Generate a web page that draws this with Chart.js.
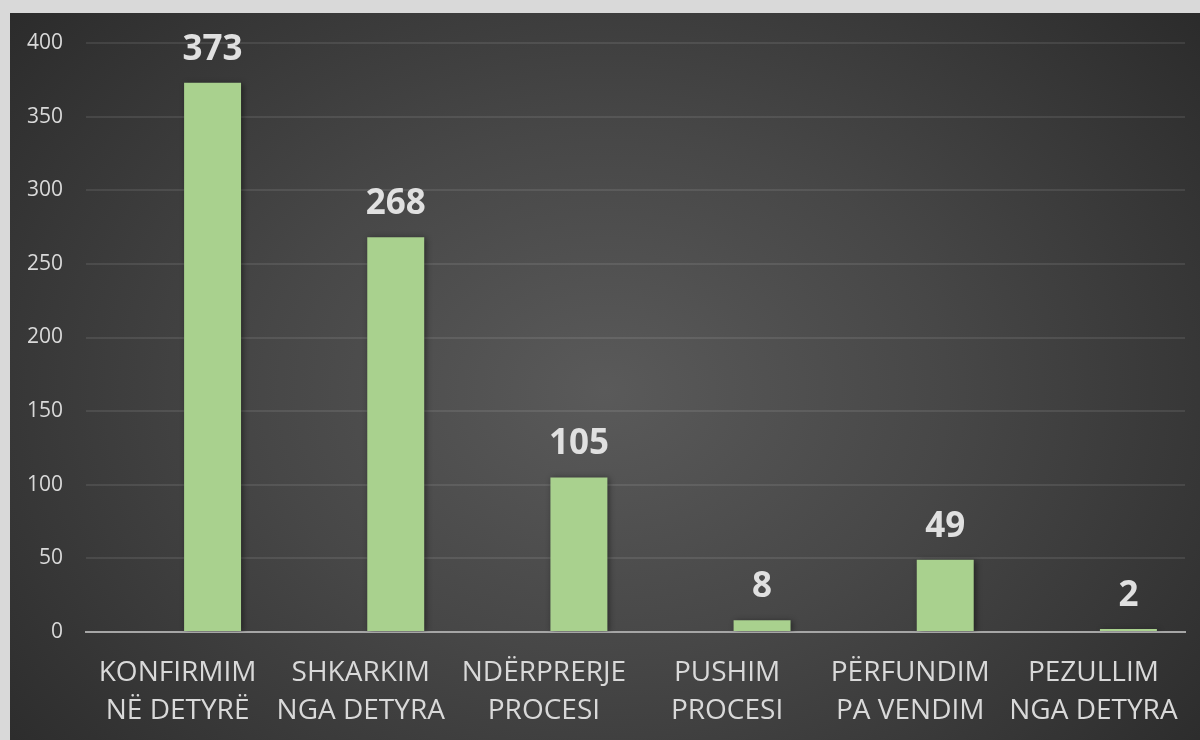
<!DOCTYPE html>
<html>
<head>
<meta charset="utf-8">
<script src="https://cdn.jsdelivr.net/npm/chart.js@4/dist/chart.umd.min.js"></script>
<style>
    html, body { margin: 0; padding: 0; }
    body { width: 1200px; height: 740px; background: #d9d9d9; position: relative; overflow: hidden; }
    #panel {
        position: absolute; left: 10px; top: 13px; width: 1190px; height: 727px;
        background: radial-gradient(ellipse 72% 90% at 50% 52%, #5a5a5a 0%, #474747 40%, #262626 100%);
    }
</style>
</head>
<body>
<div id="panel"><canvas id="chart" width="1190" height="727"></canvas></div>
<script>
// Data
const categories = [
    ['KONFIRMIM', 'NË DETYRË'],
    ['SHKARKIM', 'NGA DETYRA'],
    ['NDËRPRERJE', 'PROCESI'],
    ['PUSHIM', 'PROCESI'],
    ['PËRFUNDIM', 'PA VENDIM'],
    ['PEZULLIM', 'NGA DETYRA'],
];
const emptySeries = [null, null, null, null, null, null];
const values = [373, 268, 105, 8, 49, 2];
const yTicks = [0, 50, 100, 150, 200, 250, 300, 350, 400];

const textColor = '#d9d9d9';

// Draw value labels over the visible bars
const valueLabels = {
    id: 'valueLabels',
    afterDatasetsDraw(chart) {
        const ctx = chart.ctx;
        const meta = chart.getDatasetMeta(1);
        ctx.save();
        ctx.font = 'bold 35px "Open Sans"';
        ctx.fillStyle = '#e0e0e0';
        ctx.textAlign = 'center';
        ctx.textBaseline = 'alphabetic';
        meta.data.forEach((bar, i) => {
            ctx.fillText(String(values[i]), bar.x, bar.y - 23);
        });
        ctx.restore();
    }
};

// Soft shadow under the bars
const barShadow = {
    id: 'barShadow',
    beforeDatasetsDraw(chart) {
        const ctx = chart.ctx;
        ctx.save();
        ctx.shadowColor = 'rgba(0, 0, 0, 0.45)';
        ctx.shadowBlur = 6;
        ctx.shadowOffsetX = 2;
        ctx.shadowOffsetY = 1;
    },
    afterDatasetsDraw(chart) {
        chart.ctx.restore();
    }
};

const ctx = document.getElementById('chart').getContext('2d');
new Chart(ctx, {
    type: 'bar',
    data: {
        labels: categories,
        datasets: [
            { label: 'empty', data: emptySeries, backgroundColor: '#a9d18e' },
            { label: 'values', data: values, backgroundColor: '#a9d18e', borderWidth: 0 }
        ]
    },
    options: {
        responsive: false,
        animation: false,
        devicePixelRatio: 1,
        categoryPercentage: 0.764,
        barPercentage: 0.814,
        layout: { padding: { top: 30, right: 15, left: 0, bottom: 0 } },
        plugins: {
            legend: { display: false },
            tooltip: { enabled: false }
        },
        scales: {
            x: {
                // tick marks used only as spacing (padding would also pad the sides)
                grid: { color: 'rgba(0,0,0,0)', drawTicks: true, tickLength: 22, tickColor: 'rgba(0,0,0,0)' },
                border: { color: '#a6a6a6', width: 2 },
                ticks: {
                    color: textColor,
                    font: { family: 'Open Sans', size: 28, lineHeight: 1.36 },
                    padding: 0,
                    maxRotation: 0,
                    autoSkip: false
                },
                afterFit(scale) { scale.height = 108; }
            },
            y: {
                min: 0,
                max: 400,
                afterBuildTicks(scale) { scale.ticks = yTicks.map(v => ({ value: v })); },
                grid: {
                    color: (c) => c.tick && c.tick.value === 0 ? 'rgba(0,0,0,0)' : 'rgba(255,255,255,0.09)',
                    lineWidth: 2,
                    drawTicks: true,
                    tickLength: 23,
                    tickColor: 'rgba(0,0,0,0)'
                },
                border: { display: false },
                ticks: {
                    color: textColor,
                    font: { family: 'Open Sans', size: 21 },
                    padding: 0
                },
                afterFit(scale) { scale.width = 76; }
            }
        }
    },
    plugins: [barShadow, valueLabels]
});
</script>
</body>
</html>
